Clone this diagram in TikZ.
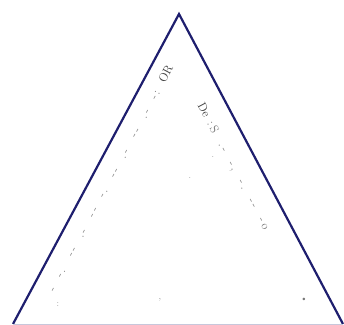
\documentclass[tikz,border=0pt]{standalone}
\definecolor{edge}{RGB}{30,30,110}
\definecolor{faint}{RGB}{120,120,120}
\begin{document}
\begin{tikzpicture}[x=1pt,y=-1pt,
  side/.style={draw=edge,line width=2.2pt,line join=miter},
  base/.style={draw=edge!25,line width=1pt},
  sidetext/.style={font=\large,text=faint,inner sep=0pt},
  speck/.style={font=\small,text=faint,inner sep=0pt}]
\useasboundingbox (0,0) rectangle (344,324);
\coordinate (top) at (179,14);
\coordinate (bl) at (13,324);
\coordinate (br) at (343,324);
\draw[side] (bl) -- (top) -- (br);
\draw[base] (bl) -- (br);
% left side text (reads upward), ends in OR
\node[sidetext,rotate=62,anchor=east] (ltext) at (170,66)
  {-\hspace{12pt}-\,.\hspace{14pt}-\,-\hspace{12pt}.\,-\hspace{14pt}-\,-\hspace{12pt}-\,.\hspace{14pt}-\,-\hspace{12pt}.\,-\hspace{14pt}-\,-\hspace{12pt}.\,-\hspace{12pt}-\,:\hspace{10pt}\textcolor{black!75}{OR}};
% right side text (reads downward), starts with De
\node[sidetext,rotate=-62,anchor=west] (rtext) at (200,104)
  {\textcolor{black!75}{De}\hspace{6pt}:\,S\hspace{12pt}.\,-\hspace{12pt}-\,,\hspace{12pt}-\,.\hspace{12pt}-\,-\hspace{12pt}-\,o};
% scattered specks
\node[speck] (s1) at (213,157) {.};
\node[speck] (s2) at (304,300) {\textbullet};
\node[speck] (s3) at (58,305) {:};
\node[speck] (s4) at (160,300) {,};
\node[speck] (s5) at (190,178) {.};
\end{tikzpicture}
\end{document}
